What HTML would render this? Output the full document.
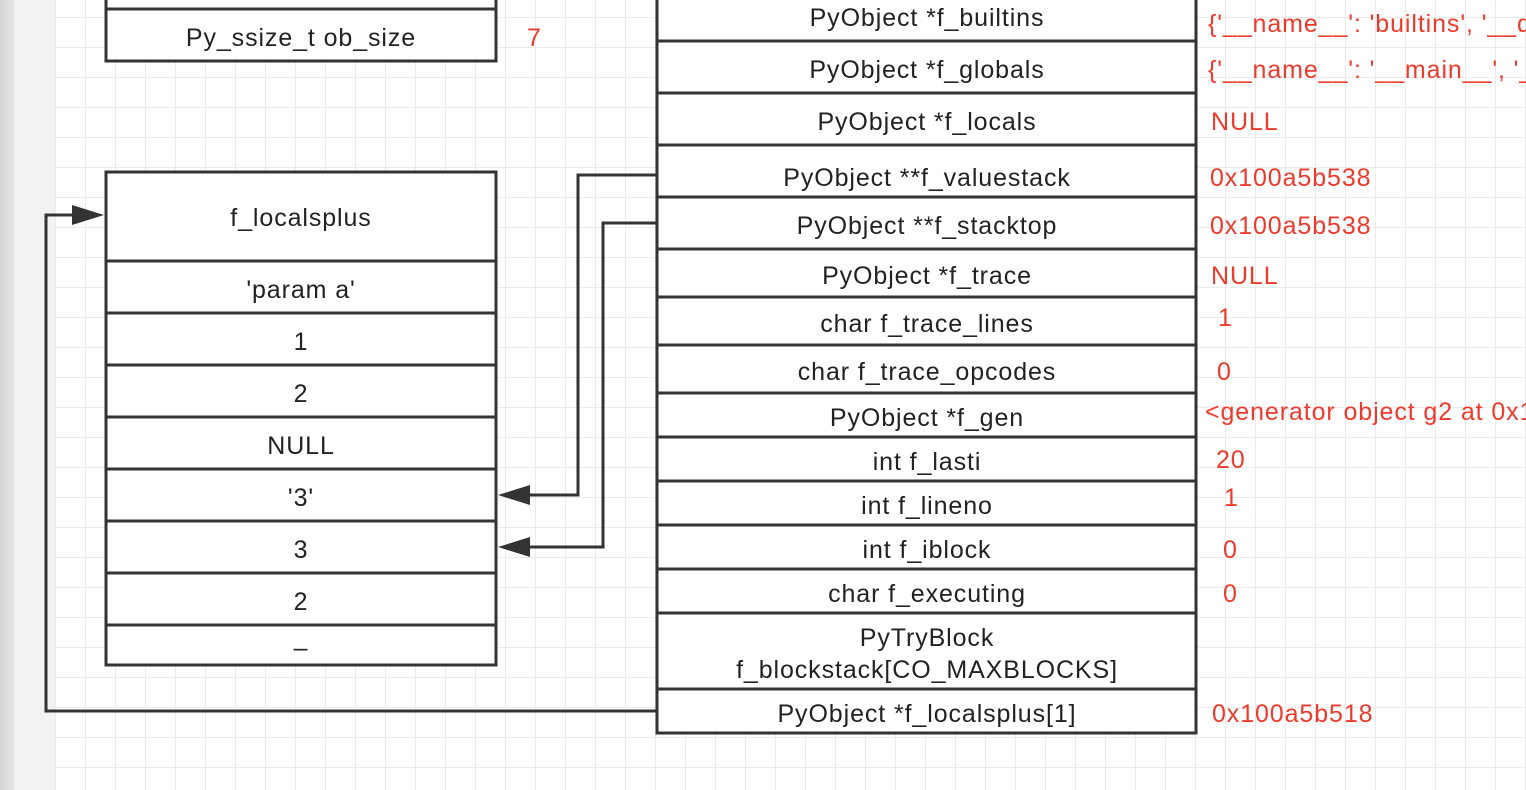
<!DOCTYPE html>
<html><head><meta charset="utf-8"><style>
html,body{margin:0;padding:0;width:1526px;height:790px;overflow:hidden;background:#fff}
svg{display:block}
text{font-family:"Liberation Sans",sans-serif;font-size:25px;letter-spacing:0.9px;fill:#222}
.r{fill:#ee3a2c}
</style></head><body>
<svg width="1526" height="790" viewBox="0 0 1526 790" xmlns="http://www.w3.org/2000/svg">
<defs>
<pattern id="g" x="25" y="17" width="30" height="30" patternUnits="userSpaceOnUse">
<path d="M0 0H30M0 0V30" stroke="#ebebeb" stroke-width="2" fill="none"/>
</pattern>
<linearGradient id="sb" x1="0" x2="1"><stop offset="0" stop-color="#d6d6da"/><stop offset="1" stop-color="#e4e4e6"/></linearGradient>
</defs>
<rect x="55" y="0" width="1471" height="790" fill="url(#g)"/>
<rect x="14" y="0" width="41" height="790" fill="#f2f2f2"/>
<rect x="0" y="0" width="14" height="790" fill="url(#sb)"/>
<g stroke="#333" stroke-width="3" fill="#fff">
<rect x="106" y="-20" width="390" height="81"/>
<line x1="106" y1="9" x2="496" y2="9"/>
<rect x="106" y="172" width="390" height="493"/>
<line x1="106" y1="261" x2="496" y2="261"/>
<line x1="106" y1="313" x2="496" y2="313"/>
<line x1="106" y1="365" x2="496" y2="365"/>
<line x1="106" y1="417" x2="496" y2="417"/>
<line x1="106" y1="469" x2="496" y2="469"/>
<line x1="106" y1="521" x2="496" y2="521"/>
<line x1="106" y1="573" x2="496" y2="573"/>
<line x1="106" y1="625" x2="496" y2="625"/>
<rect x="657" y="-20" width="539" height="753"/>
<line x1="657" y1="41" x2="1196" y2="41"/>
<line x1="657" y1="93" x2="1196" y2="93"/>
<line x1="657" y1="145" x2="1196" y2="145"/>
<line x1="657" y1="197" x2="1196" y2="197"/>
<line x1="657" y1="249" x2="1196" y2="249"/>
<line x1="657" y1="297" x2="1196" y2="297"/>
<line x1="657" y1="345" x2="1196" y2="345"/>
<line x1="657" y1="393" x2="1196" y2="393"/>
<line x1="657" y1="437" x2="1196" y2="437"/>
<line x1="657" y1="481" x2="1196" y2="481"/>
<line x1="657" y1="525" x2="1196" y2="525"/>
<line x1="657" y1="569" x2="1196" y2="569"/>
<line x1="657" y1="613" x2="1196" y2="613"/>
<line x1="657" y1="689" x2="1196" y2="689"/>
</g>
<g stroke="#333" stroke-width="3" fill="none">
<polyline points="657,175 578,175 578,495 528,495"/>
<polyline points="657,223 603,223 603,547 528,547"/>
<polyline points="657,711 46,711 46,215 74,215"/>
</g>
<g fill="#333">
<polygon points="498,495 530,485 530,505"/>
<polygon points="498,547 530,537 530,557"/>
<polygon points="104,215 72,205 72,225"/>
</g>
<g text-anchor="middle" dominant-baseline="central">
<text x="301" y="38">Py_ssize_t ob_size</text>
<text x="301" y="218">f_localsplus</text>
<text x="301" y="290">'param a'</text>
<text x="301" y="342">1</text>
<text x="301" y="394">2</text>
<text x="301" y="446">NULL</text>
<text x="301" y="498">'3'</text>
<text x="301" y="550">3</text>
<text x="301" y="602">2</text>
<text x="301" y="648">–</text>
<text x="927" y="18">PyObject *f_builtins</text>
<text x="927" y="70">PyObject *f_globals</text>
<text x="927" y="122">PyObject *f_locals</text>
<text x="927" y="178">PyObject **f_valuestack</text>
<text x="927" y="226">PyObject **f_stacktop</text>
<text x="927" y="276">PyObject *f_trace</text>
<text x="927" y="324">char f_trace_lines</text>
<text x="927" y="372">char f_trace_opcodes</text>
<text x="927" y="418">PyObject *f_gen</text>
<text x="927" y="462">int f_lasti</text>
<text x="927" y="506">int f_lineno</text>
<text x="927" y="550">int f_iblock</text>
<text x="927" y="594">char f_executing</text>
<text x="927" y="638">PyTryBlock</text>
<text x="927" y="670">f_blockstack[CO_MAXBLOCKS]</text>
<text x="927" y="714">PyObject *f_localsplus[1]</text>
</g>
<g dominant-baseline="central">
<text class="r" x="527" y="38">7</text>
<text class="r" x="1208" y="24">{'__name__': 'builtins', '__doc__'</text>
<text class="r" x="1208" y="70">{'__name__': '__main__', '__doc__'</text>
<text class="r" x="1211" y="122">NULL</text>
<text class="r" x="1210" y="178">0x100a5b538</text>
<text class="r" x="1210" y="226">0x100a5b538</text>
<text class="r" x="1211" y="276">NULL</text>
<text class="r" x="1218" y="318">1</text>
<text class="r" x="1217" y="372">0</text>
<text class="r" x="1205" y="412">&lt;generator object g2 at 0x100</text>
<text class="r" x="1216" y="460">20</text>
<text class="r" x="1224" y="498">1</text>
<text class="r" x="1223" y="550">0</text>
<text class="r" x="1223" y="594">0</text>
<text class="r" x="1212" y="714">0x100a5b518</text>
</g>
</svg>
</body></html>
